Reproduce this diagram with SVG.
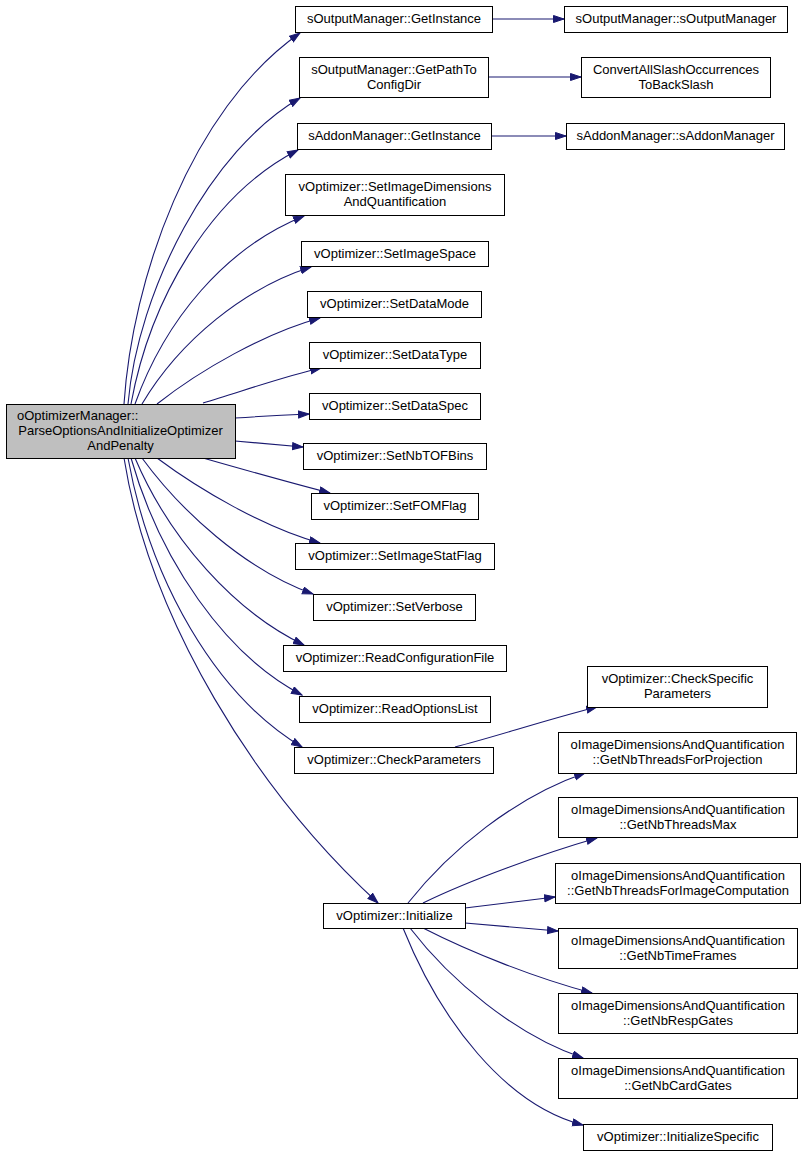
<svg xmlns="http://www.w3.org/2000/svg" width="805" height="1156" viewBox="0 0 805 1156">
<style>
  .node rect { fill: #ffffff; stroke: #000000; stroke-width: 1; }
  .root rect { fill: #bfbfbf; }
  text { font-family: "Liberation Sans", Arial, sans-serif; font-size: 13px; fill: #000000; text-anchor: middle; }
  .edges path { fill: none; stroke: #191970; stroke-width: 1.1; marker-end: url(#arrow); }
</style>
<defs>
  <marker id="arrow" markerUnits="userSpaceOnUse" markerWidth="12" markerHeight="10" refX="11" refY="4" orient="auto">
    <path d="M0.5,0.5 L11,4 L0.5,7.5 z" fill="#191970" stroke="#191970" stroke-width="1"/>
  </marker>
</defs>
<rect x="0" y="0" width="805" height="1156" fill="#ffffff"/>
<g class="edges">
  <path d="M124,404 C132,280 190,110 300,33"/>
  <path d="M128,404 C138,290 210,150 300,98"/>
  <path d="M131,404 C150,300 210,195 298,150"/>
  <path d="M135,404 C165,320 225,248 304,216"/>
  <path d="M142,404 C180,340 245,288 311,267"/>
  <path d="M157,404 C200,370 265,333 320,318"/>
  <path d="M203,403 C240,392 285,376 321,368"/>
  <path d="M235,418 C265,416 285,415 309,414"/>
  <path d="M235,441 L303,447"/>
  <path d="M203,458 C245,470 295,484 330,493"/>
  <path d="M157,458 C200,490 265,528 320,543"/>
  <path d="M142,458 C180,510 245,570 313,594"/>
  <path d="M135,458 C170,540 235,612 304,645"/>
  <path d="M131,458 C160,560 225,655 302,695"/>
  <path d="M128,458 C150,580 215,695 302,747"/>
  <path d="M124,458 C150,620 255,790 378,903"/>
  <path d="M492,19 L564,19"/>
  <path d="M488,77 L581,77"/>
  <path d="M491,136 L566,136"/>
  <path d="M455,747 C495,737 545,720 597,707"/>
  <path d="M408,903 C450,850 515,797 585,773"/>
  <path d="M423,903 C470,880 545,853 597,838"/>
  <path d="M465,908 L555,897"/>
  <path d="M465,923 L558,931"/>
  <path d="M423,928 C470,952 535,978 592,993"/>
  <path d="M410,928 C450,980 515,1035 583,1058"/>
  <path d="M403,928 C440,1020 505,1105 583,1125"/>
</g>
<g id="n0" class="node root"><rect x="6.5" y="404.5" width="229" height="54"/><text x="17" y="420" style="text-anchor:start">oOptimizerManager::</text><text x="120.5" y="435">ParseOptionsAndInitializeOptimizer</text><text x="120.5" y="450">AndPenalty</text></g>
<g id="n1" class="node"><rect x="295.5" y="6.5" width="197" height="26"/><text x="394" y="23">sOutputManager::GetInstance</text></g>
<g id="n2" class="node"><rect x="564.5" y="6.5" width="223" height="26"/><text x="676" y="23">sOutputManager::sOutputManager</text></g>
<g id="n3" class="node"><rect x="299.5" y="57.5" width="189" height="40"/><text x="394" y="74">sOutputManager::GetPathTo</text><text x="394" y="89">ConfigDir</text></g>
<g id="n4" class="node"><rect x="581.5" y="57.5" width="189" height="40"/><text x="676" y="74">ConvertAllSlashOccurrences</text><text x="676" y="89">ToBackSlash</text></g>
<g id="n5" class="node"><rect x="297.5" y="123.5" width="194" height="26"/><text x="394.5" y="140">sAddonManager::GetInstance</text></g>
<g id="n6" class="node"><rect x="566.5" y="123.5" width="218" height="26"/><text x="675.5" y="140">sAddonManager::sAddonManager</text></g>
<g id="n7" class="node"><rect x="285.5" y="174.5" width="219" height="41"/><text x="395" y="191">vOptimizer::SetImageDimensions</text><text x="395" y="206">AndQuantification</text></g>
<g id="n8" class="node"><rect x="301.5" y="241.5" width="187" height="25"/><text x="395" y="258">vOptimizer::SetImageSpace</text></g>
<g id="n9" class="node"><rect x="307.5" y="291.5" width="174" height="26"/><text x="394.5" y="308">vOptimizer::SetDataMode</text></g>
<g id="n10" class="node"><rect x="309.5" y="342.5" width="171" height="26"/><text x="395" y="359">vOptimizer::SetDataType</text></g>
<g id="n11" class="node"><rect x="309.5" y="393.5" width="171" height="26"/><text x="395" y="410">vOptimizer::SetDataSpec</text></g>
<g id="n12" class="node"><rect x="303.5" y="443.5" width="183" height="26"/><text x="395" y="460">vOptimizer::SetNbTOFBins</text></g>
<g id="n13" class="node"><rect x="311.5" y="493.5" width="167" height="26"/><text x="395" y="510">vOptimizer::SetFOMFlag</text></g>
<g id="n14" class="node"><rect x="295.5" y="543.5" width="199" height="26"/><text x="395" y="560">vOptimizer::SetImageStatFlag</text></g>
<g id="n15" class="node"><rect x="313.5" y="594.5" width="162" height="26"/><text x="394.5" y="611">vOptimizer::SetVerbose</text></g>
<g id="n16" class="node"><rect x="283.5" y="645.5" width="223" height="26"/><text x="395" y="662">vOptimizer::ReadConfigurationFile</text></g>
<g id="n17" class="node"><rect x="299.5" y="696.5" width="191" height="26"/><text x="395" y="713">vOptimizer::ReadOptionsList</text></g>
<g id="n18" class="node"><rect x="294.5" y="747.5" width="199" height="26"/><text x="394" y="764">vOptimizer::CheckParameters</text></g>
<g id="n19" class="node"><rect x="587.5" y="666.5" width="180" height="41"/><text x="677.5" y="683">vOptimizer::CheckSpecific</text><text x="677.5" y="698">Parameters</text></g>
<g id="n20" class="node"><rect x="323.5" y="903.5" width="142" height="25"/><text x="394.5" y="920">vOptimizer::Initialize</text></g>
<g id="n21" class="node"><rect x="558.5" y="732.5" width="238" height="41"/><text x="677.5" y="749">oImageDimensionsAndQuantification</text><text x="677.5" y="764">::GetNbThreadsForProjection</text></g>
<g id="n22" class="node"><rect x="558.5" y="797.5" width="239" height="40"/><text x="678" y="814">oImageDimensionsAndQuantification</text><text x="678" y="829">::GetNbThreadsMax</text></g>
<g id="n23" class="node"><rect x="555.5" y="863.5" width="245" height="40"/><text x="678" y="880">oImageDimensionsAndQuantification</text><text x="678" y="895">::GetNbThreadsForImageComputation</text></g>
<g id="n24" class="node"><rect x="558.5" y="928.5" width="239" height="40"/><text x="678" y="945">oImageDimensionsAndQuantification</text><text x="678" y="960">::GetNbTimeFrames</text></g>
<g id="n25" class="node"><rect x="558.5" y="993.5" width="239" height="40"/><text x="678" y="1010">oImageDimensionsAndQuantification</text><text x="678" y="1025">::GetNbRespGates</text></g>
<g id="n26" class="node"><rect x="558.5" y="1058.5" width="239" height="40"/><text x="678" y="1075">oImageDimensionsAndQuantification</text><text x="678" y="1090">::GetNbCardGates</text></g>
<g id="n27" class="node"><rect x="583.5" y="1124.5" width="189" height="26"/><text x="678" y="1141">vOptimizer::InitializeSpecific</text></g>
</svg>
